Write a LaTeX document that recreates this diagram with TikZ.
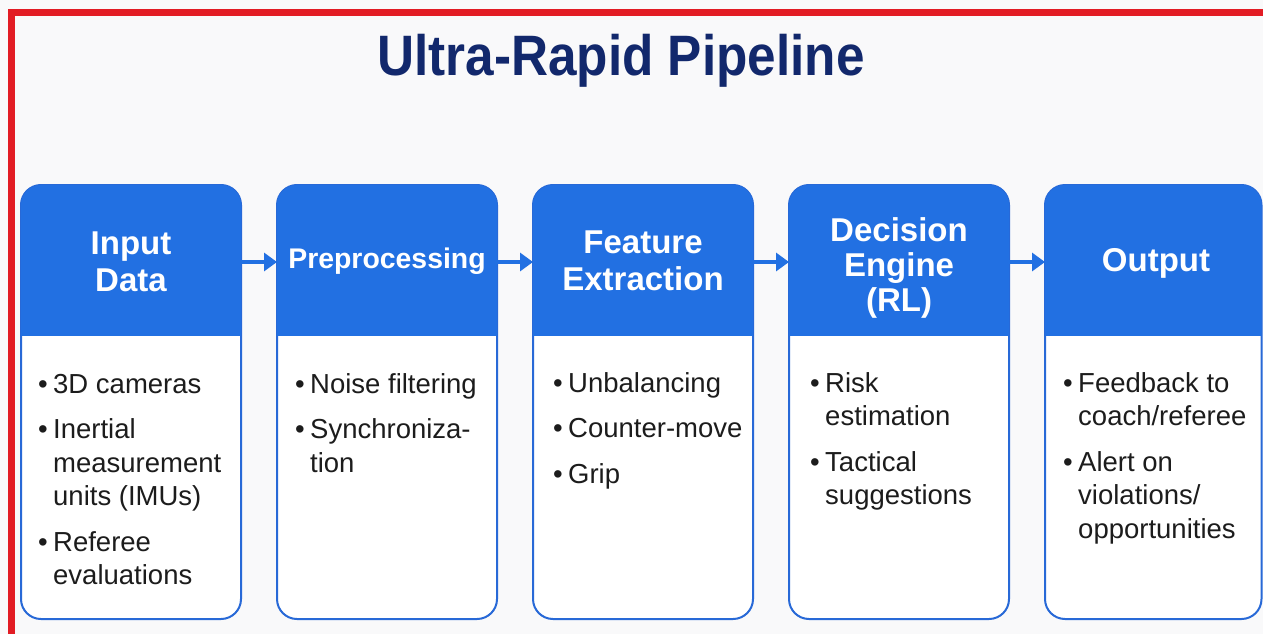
\documentclass[tikz,border=0pt]{standalone}
\usepackage{fontspec}
\usepackage{graphicx}
\setmainfont{Liberation Sans}
\usetikzlibrary{arrows.meta}
\definecolor{hblue}{RGB}{34,112,226}
\definecolor{bblue}{RGB}{40,105,215}
\definecolor{navy}{RGB}{18,40,108}
\definecolor{redb}{RGB}{226,28,36}
\definecolor{bgc}{RGB}{249,249,250}
\definecolor{ink}{RGB}{28,28,28}
\newcommand\itm[1]{\makebox[15pt][l]{•}#1}
\newcommand\bcont{\hspace*{15pt}}
\begin{document}
\begin{tikzpicture}[x=1pt,y=-1pt,
  stage/.style={draw=bblue, line width=2pt, rounded corners=20pt, fill=white, minimum height=434pt, inner sep=0pt, outer sep=0pt},
  head/.style={text=white, font=\fontsize{33}{36.5}\selectfont\bfseries, align=center, inner sep=0pt},
  body/.style={text=ink, font=\fontsize{27.5}{33.5}\selectfont, align=left, inner sep=0pt, anchor=north west},
  arr/.style={draw=hblue, line width=4pt, -{Triangle[length=13pt,width=18pt]}},
]
\useasboundingbox (0,0) rectangle (1263,634);
\fill[bgc] (0,0) rectangle (1263,634);
\fill[redb] (8,9) rectangle (15,634);
\fill[redb] (8,9) rectangle (1263,16);

\node[anchor=base, text=navy, font=\fontsize{57}{60}\selectfont\bfseries] (title) at (621,75) {\scalebox{0.9}[1]{Ultra-Rapid Pipeline}};

\foreach \i/\cx/\w in {1/131/220, 2/387/220, 3/643/220, 4/899/220, 5/1153.25/216.5}{
  \node[stage, minimum width=\w pt] (b\i) at (\cx,402) {};
  \begin{scope}
    \clip ({\cx-\w/2},185) rectangle ({\cx+\w/2},335);
    \fill[hblue, rounded corners=20pt] ({\cx-\w/2},185) rectangle ({\cx+\w/2},619);
  \end{scope}
}

\node[head] (h1) at (131,262) {Input\\Data};
\node[head, font=\fontsize{28.4}{31}\selectfont\bfseries] (h2) at (387,261) {Preprocessing};
\node[head] (h3) at (643,261) {Feature\\Extraction};
\node[head, font=\fontsize{33}{35}\selectfont\bfseries] (h4) at (899,268) {Decision\\Engine\\(RL)};
\node[head] (h5) at (1156,263) {Output};

\coordinate (ay) at (0,262);
\draw[arr] (b1.east |- ay) -- (b2.west |- ay);
\draw[arr] (b2.east |- ay) -- (b3.west |- ay);
\draw[arr] (b3.east |- ay) -- (b4.west |- ay);
\draw[arr] (b4.east |- ay) -- (b5.west |- ay);

\node[body] (t1) at (38,369.55) {\strut\itm{3D cameras}\\[12pt]\itm{Inertial}\\\bcont measurement\\\bcont units (IMUs)\\[12pt]\itm{Referee}\\\bcont evaluations};
\node[body] (t2) at (295,369.55) {\strut\itm{Noise filtering}\\[12pt]\itm{Synchroniza-}\\\bcont tion};
\node[body] (t3) at (553,368.55) {\strut\itm{Unbalancing}\\[12pt]\itm{Counter-move}\\[12pt]\itm{Grip}};
\node[body] (t4) at (810,368.55) {\strut\itm{Risk}\\\bcont estimation\\[12pt]\itm{Tactical}\\\bcont suggestions};
\node[body] (t5) at (1063,368.55) {\strut\itm{Feedback to}\\\bcont coach/referee\\[12pt]\itm{Alert on}\\\bcont violations/\\\bcont opportunities};
\end{tikzpicture}
\end{document}
